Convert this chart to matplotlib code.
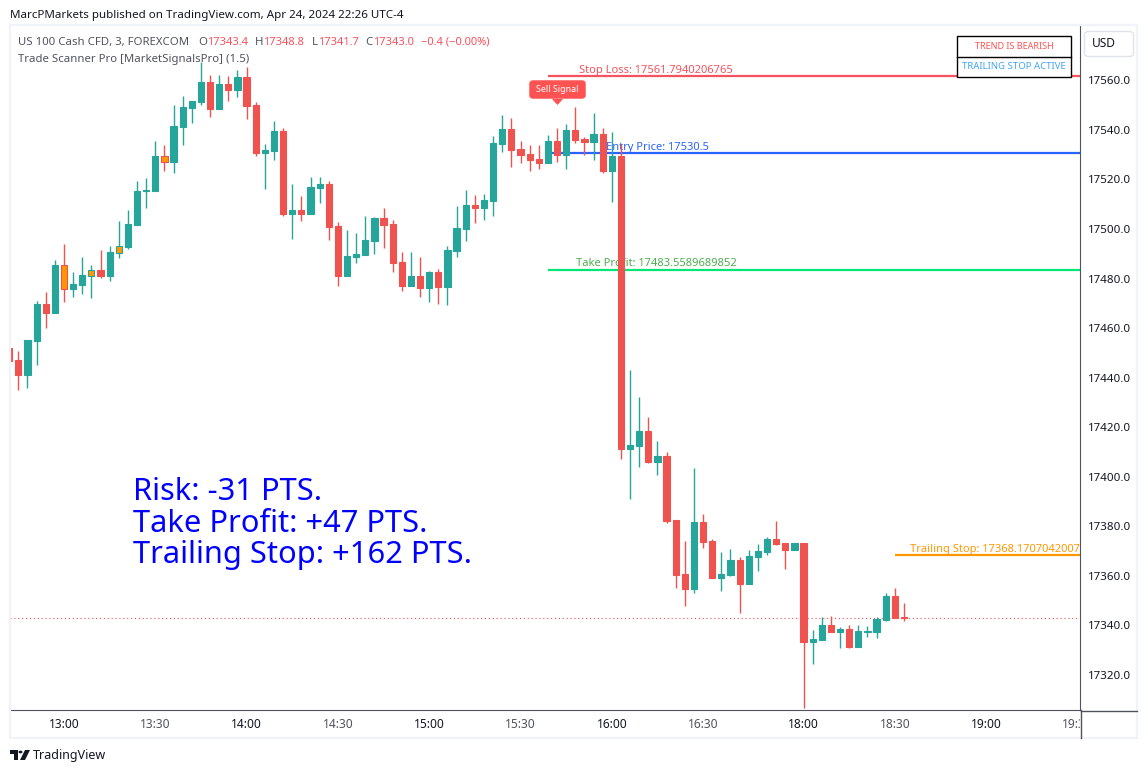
import matplotlib
matplotlib.use("Agg")
import matplotlib.pyplot as plt
import numpy as np
from matplotlib.patches import Rectangle, FancyBboxPatch, Polygon, Circle
from matplotlib.transforms import Bbox

# bar 0 is the 13:00 candle
bars = np.arange(-6, 93)
opens = [17451.9, 17447.1, 17441.0, 17454.7, 17469.7, 17466.0, 17485.4, 17475.7, 17477.4, 17481.0,
         17483.4, 17481.0, 17490.4, 17492.7, 17501.6, 17515.3, 17515.3, 17529.5, 17527.0, 17541.2,
         17548.9, 17551.3, 17559.4, 17548.5, 17558.6, 17556.1, 17561.4, 17550.1, 17530.7, 17531.5,
         17539.6, 17506.0, 17507.6, 17506.0, 17516.5, 17518.1, 17501.2, 17481.0, 17488.6, 17489.5,
         17495.1, 17504.4, 17502.0, 17486.6, 17476.9, 17481.0, 17476.1, 17482.6, 17476.5, 17491.1,
         17500.0, 17509.7, 17508.4, 17511.3, 17534.3, 17540.4, 17532.3, 17530.3, 17528.2, 17526.6,
         17535.5, 17529.9, 17540.0, 17536.3, 17535.1, 17538.3, 17523.4, 17529.5, 17411.1, 17412.4,
         17418.4, 17405.9, 17408.3, 17382.5, 17360.6, 17354.6, 17381.6, 17374.0, 17359.0, 17360.2,
         17366.3, 17356.6, 17367.5, 17369.5, 17374.8, 17373.2, 17370.3, 17373.2, 17333.2, 17334.0,
         17340.0, 17337.2, 17338.4, 17331.1, 17337.2, 17337.2, 17342.0, 17351.7, 17343.4]
highs = [17451.9, 17450.7, 17455.1, 17470.9, 17474.5, 17487.5, 17493.9, 17482.6, 17488.7, 17485.4,
         17491.5, 17493.1, 17503.2, 17507.7, 17519.4, 17520.6, 17535.5, 17533.9, 17550.1, 17553.7,
         17551.7, 17567.6, 17562.2, 17562.2, 17561.8, 17564.2, 17565.4, 17551.3, 17534.3, 17543.6,
         17540.8, 17518.1, 17513.3, 17521.0, 17521.0, 17519.4, 17502.8, 17499.6, 17498.3, 17505.2,
         17504.8, 17508.4, 17503.6, 17490.7, 17490.7, 17488.6, 17483.0, 17483.8, 17493.1, 17509.3,
         17515.7, 17513.7, 17514.1, 17537.5, 17546.0, 17544.8, 17535.5, 17533.9, 17533.9, 17537.9,
         17540.8, 17542.4, 17549.3, 17537.1, 17546.8, 17540.8, 17539.1, 17534.3, 17443.1, 17432.2,
         17424.1, 17414.4, 17409.9, 17382.5, 17374.0, 17403.5, 17384.9, 17374.8, 17369.5, 17370.7,
         17367.5, 17370.3, 17372.8, 17375.6, 17382.0, 17373.2, 17373.2, 17373.2, 17338.0, 17343.3,
         17343.7, 17339.2, 17340.0, 17340.0, 17339.6, 17343.3, 17353.0, 17355.0, 17348.8]
lows = [17446.8, 17434.9, 17435.7, 17445.0, 17460.0, 17466.0, 17470.5, 17472.5, 17473.7, 17472.1,
        17480.2, 17479.0, 17488.3, 17491.9, 17501.6, 17508.5, 17515.3, 17523.4, 17522.6, 17533.9,
        17542.8, 17550.1, 17545.2, 17548.5, 17551.7, 17553.3, 17544.4, 17529.5, 17516.1, 17527.9,
        17505.2, 17495.9, 17503.2, 17506.0, 17510.5, 17495.5, 17476.9, 17481.0, 17486.2, 17489.5,
        17489.9, 17492.3, 17482.6, 17474.9, 17476.9, 17472.5, 17470.5, 17469.7, 17469.3, 17488.6,
        17495.1, 17502.4, 17503.6, 17505.2, 17531.1, 17525.0, 17526.6, 17523.4, 17524.2, 17526.6,
        17527.0, 17524.2, 17534.7, 17529.9, 17527.8, 17522.6, 17510.9, 17407.1, 17390.9, 17403.9,
        17405.5, 17400.6, 17381.2, 17355.0, 17347.7, 17353.0, 17371.1, 17359.0, 17353.8, 17359.8,
        17344.9, 17356.6, 17361.8, 17368.3, 17372.4, 17362.7, 17370.3, 17306.5, 17324.3, 17334.0,
        17337.2, 17330.7, 17330.7, 17331.1, 17335.2, 17334.8, 17341.6, 17342.9, 17341.7]
closes = [17446.8, 17441.0, 17455.1, 17469.7, 17466.0, 17485.4, 17475.7, 17477.8, 17481.4, 17483.4,
          17481.0, 17490.7, 17493.1, 17502.0, 17515.3, 17515.7, 17529.5, 17527.0, 17541.6, 17549.3,
          17551.7, 17559.4, 17548.5, 17558.6, 17556.1, 17561.4, 17549.7, 17530.7, 17531.9, 17539.6,
          17506.0, 17507.6, 17506.0, 17516.9, 17518.1, 17500.8, 17481.0, 17489.0, 17489.9, 17495.5,
          17504.4, 17501.6, 17486.2, 17476.9, 17481.0, 17476.1, 17482.6, 17476.5, 17491.5, 17500.4,
          17509.7, 17508.4, 17511.7, 17534.7, 17540.4, 17531.9, 17529.9, 17527.8, 17526.6, 17535.5,
          17529.9, 17540.0, 17535.9, 17535.1, 17538.3, 17523.4, 17529.5, 17411.1, 17412.8, 17418.4,
          17405.9, 17408.3, 17382.0, 17360.2, 17354.6, 17381.6, 17373.6, 17359.0, 17360.6, 17366.3,
          17356.6, 17367.9, 17369.9, 17374.8, 17372.8, 17370.3, 17373.2, 17333.2, 17334.4, 17340.0,
          17337.2, 17338.4, 17331.1, 17337.6, 17337.6, 17342.5, 17351.7, 17342.9, 17343.0]
orange_bars = [0, 3, 6, 11]

price_ticks = np.arange(17320, 17561, 20)
time_ticks = [0, 10, 20, 30, 40, 50, 60, 70, 81, 91, 101, 111]
time_labels = ["13:00", "13:30", "14:00", "14:30", "15:00", "15:30", "16:00", "16:30",
               "18:00", "18:30", "19:00", "19:30"]

stop_loss = 17561.7940206765
entry_price = 17530.5
take_profit = 17483.5589689852
trailing_stop = 17368.1707042007
last_close = 17343.0

GREEN = "#26a69a"
RED = "#ef5350"
ORANGE = "#ff9800"
DARK = "#131722"
GREY = "#50535e"
FRAME = "#f0f3fa"
W, H = 1148, 773

plt.rcParams["font.family"] = ["Noto Sans", "DejaVu Sans"]

fig = plt.figure(figsize=(W / 100, H / 100), dpi=100)
ax = fig.add_axes([10 / W, (H - 710) / H, 1070 / W, 684 / H])
ax.set_xlim((10 - 64) / 9.13, (1080 - 64) / 9.13)
ax.set_ylim(17305.7, 17582.0)


def fx(x):
    return x / W


def fy(y):
    return 1 - y / H


def ftext(x, y, s, size=8.6, color=DARK, ha="left", **kw):
    return fig.text(fx(x), fy(y + 1), s, fontsize=size, color=color, ha=ha, va="center", **kw)


# labels that sit under the candles, so they go in the axes
def level_text(x, y, s, color):
    ax.text(fx(x), fy(y + 1), s, fontsize=8.0, color=color, ha="center", va="center",
            transform=fig.transFigure, zorder=2, clip_on=True)


# candles
opens = np.array(opens)
closes = np.array(closes)
colors = [GREEN if c > o else RED for o, c in zip(opens, closes)]
ax.vlines(bars, lows, highs, colors=colors, linewidth=1.0, zorder=3)
fills = [ORANGE if b in orange_bars else col for b, col in zip(bars, colors)]
ax.bar(bars, np.abs(closes - opens), bottom=np.minimum(opens, closes), width=0.68,
       color=fills, edgecolor=colors, linewidth=0.8, zorder=4)

# levels
ax.hlines(stop_loss, 53, 111.3, color="#f7525f", linewidth=1.6, zorder=2)
ax.hlines(entry_price, 53, 111.3, color="#2962ff", linewidth=1.6, zorder=2)
ax.hlines(take_profit, 53, 111.3, color="#00e676", linewidth=1.6, zorder=2)
ax.hlines(trailing_stop, 91, 111.3, color=ORANGE, linewidth=1.6, zorder=2)
ax.axhline(last_close, color=RED, linewidth=0.8, linestyle=(0, (1, 2.5)), zorder=2)

level_text(655.5, 69.5, "Stop Loss: %.10f" % stop_loss, "#f7525f")
level_text(657, 146.5, "Entry Price: 17530.5", "#2962ff")
level_text(656.5, 262.5, "Take Profit: %.10f" % take_profit, "#4caf50")
level_text(994.5, 548.5, "Trailing Stop: %.10f" % trailing_stop, ORANGE)

# sell signal label
fig.add_artist(FancyBboxPatch((fx(531), fy(97)), 53 / W, 15 / H,
                              boxstyle="round,pad=0,rounding_size=0.002",
                              transform=fig.transFigure, fc="#ff5252", ec="#ff5252", lw=2.5))
fig.add_artist(Polygon([(fx(552), fy(99)), (fx(563), fy(99)), (fx(557.5), fy(105))],
                       transform=fig.transFigure, fc="#ff5252", ec="none"))
ftext(557.5, 88, "Sell Signal", size=6.4, color="white", ha="center", zorder=6)

# axes
for side in ["left", "top"]:
    ax.spines[side].set_visible(False)
ax.spines["right"].set_color(GREY)
ax.spines["bottom"].set_color(GREY)
ax.yaxis.tick_right()
ax.set_yticks(price_ticks)
ax.set_yticklabels(["%.1f" % p for p in price_ticks])
ax.tick_params(axis="y", length=0, pad=6, labelsize=8.3, labelcolor=DARK)
ax.set_xticks(time_ticks)
ax.set_xticklabels(time_labels)
ax.tick_params(axis="x", length=0, pad=5.5, labelsize=8.6)
for lab, txt in zip(ax.get_xticklabels(), time_labels):
    lab.set_color(DARK if txt.endswith(":00") else GREY)
    lab.set_clip_on(True)
    lab.set_clip_box(Bbox([[0, 0], [1080, H]]))

# frame round the chart
fig.add_artist(Rectangle((fx(9.5), fy(738)), 1127.5 / W, 713 / H, transform=fig.transFigure,
                         fc="none", ec=FRAME, lw=1.6))
fig.add_artist(plt.Line2D([fx(1080.5), fx(1080.5)], [fy(710), fy(738)], color=GREY, lw=1))
fig.add_artist(plt.Line2D([fx(1080.5), fx(1137)], [fy(710.5), fy(710.5)], color=GREY, lw=1))

# header and legend
ftext(10, 14.5, "MarcPMarkets published on TradingView.com, Apr 24, 2024 22:26 UTC-4", size=8.35)
ftext(18, 41.5, "US 100 Cash CFD, 3, FOREXCOM", size=8.2, color=GREY)
for x, s in [(198, "O"), (255, "H"), (312, "L"), (365, "C")]:
    ftext(x, 41.5, s, size=8.2, color=GREY)
for x, s in [(207, "17343.4"), (263, "17348.8"), (318, "17341.7"), (373, "17343.0"),
             (421, "\u22120.4 (\u22120.00%)")]:
    ftext(x, 41.5, s, size=8.0, color="#f7525f")
ftext(18, 58.5, "Trade Scanner Pro [MarketSignalsPro] (1.5)", size=8.2, color=GREY)

# status table
fig.add_artist(Rectangle((fx(956.5), fy(76.5)), 114 / W, 40 / H, transform=fig.transFigure,
                         fc="white", ec="black", lw=1, zorder=5))
fig.add_artist(plt.Line2D([fx(956.5), fx(1070.5)], [fy(56.5), fy(56.5)], color="black", lw=1, zorder=6))
ftext(1014, 45.5, "TREND IS BEARISH", size=6.5, color="#ff5252", ha="center", zorder=7)
ftext(1014, 65.5, "TRAILING STOP ACTIVE", size=6.9, color="#42a5f5", ha="center", zorder=7)

# currency button
fig.add_artist(FancyBboxPatch((fx(1084.5), fy(56.5)), 49 / W, 25 / H,
                              boxstyle="round,pad=0,rounding_size=0.004",
                              transform=fig.transFigure, fc="white", ec="#e0e3eb", lw=1))
ftext(1104, 42.5, "USD", size=8.6, ha="center", zorder=6)

# big note
ftext(133, 490.5, "Risk: -31 PTS.", size=22.2, color="#0000ff")
ftext(133, 522.5, "Take Profit: +47 PTS.", size=22.2, color="#0000ff")
ftext(133, 554.5, "Trailing Stop: +162 PTS.", size=22.2, color="#0000ff")

# logo
fig.add_artist(Polygon([(fx(10), fy(750)), (fx(18), fy(750)), (fx(18), fy(760)), (fx(14), fy(760)),
                        (fx(14), fy(754)), (fx(10), fy(754))], transform=fig.transFigure,
                       fc=DARK, ec="none"))
fig.add_artist(Circle((fx(20.5), fy(752)), 2 / W, transform=fig.transFigure, fc=DARK, ec="none"))
fig.add_artist(Polygon([(fx(25), fy(750)), (fx(30), fy(750)), (fx(25), fy(760)), (fx(20), fy(760))],
                       transform=fig.transFigure, fc=DARK, ec="none"))
ftext(33, 755, "TradingView", size=9, color=DARK)

fig.savefig("out.png", dpi=100)
